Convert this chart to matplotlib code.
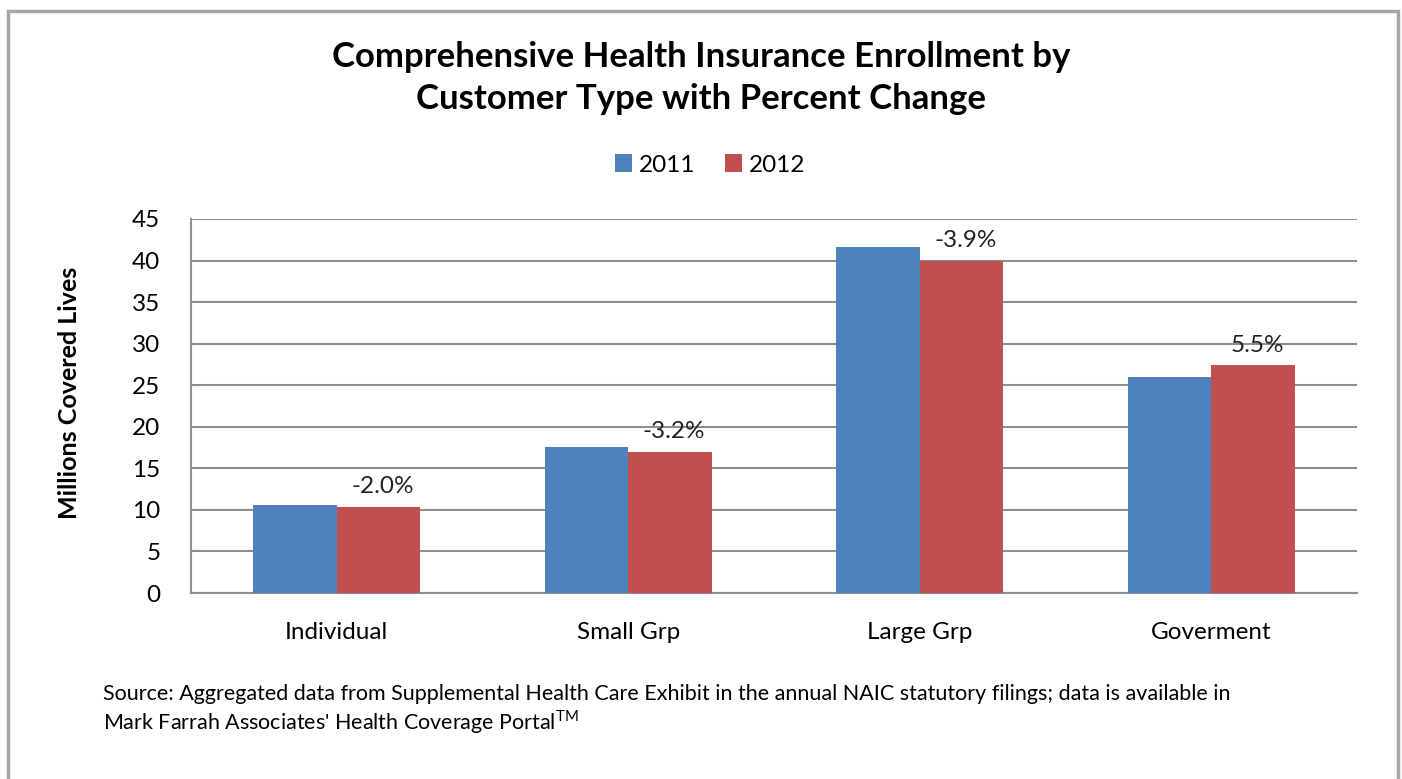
import numpy as np
import matplotlib.pyplot as plt
from matplotlib.patches import Rectangle

categories = ["Individual", "Small Grp", "Large Grp", "Goverment"]
y2011 = [10.6, 17.6, 41.6, 26.0]
y2012 = [10.4, 17.0, 40.0, 27.4]
pct_change = ["-2.0%", "-3.2%", "-3.9%", "5.5%"]
years = ["2011", "2012"]

blue = "#4f81bd"
red = "#c0504d"
grid_col = "#8e8e8e"

plt.rcParams["font.family"] = ["Lato", "DejaVu Sans"]

fig = plt.figure(figsize=(14.02, 7.79), dpi=100)
fig.patches.append(Rectangle((8 / 1402, -0.05), 1390 / 1402, 1.05 - 11 / 779,
                             transform=fig.transFigure, fill=False,
                             edgecolor="#a6a6a6", linewidth=2.5))

ax = fig.add_axes([191 / 1402, 1 - 593 / 779, 1166 / 1402, 374 / 779])

x = np.arange(len(categories))
w = 1 / 3.5
b1 = ax.bar(x - w / 2, y2011, w, color=blue, label=years[0], zorder=3)
b2 = ax.bar(x + w / 2, y2012, w, color=red, label=years[1], zorder=3)

for rect, lab in zip(b2, pct_change):
    ax.annotate(lab, (rect.get_x() + rect.get_width() / 2, rect.get_height()),
                xytext=(3, 7), textcoords="offset points",
                ha="center", va="bottom", fontsize=17.5, color="#222222")

ax.set_xlim(-0.5, len(categories) - 0.5)
ax.set_ylim(0, 45)
ax.set_yticks(range(0, 46, 5))
ax.set_xticks(x)
ax.set_xticklabels(categories, fontsize=17.5)
ax.tick_params(axis="y", labelsize=17.5, length=0, pad=22)
ax.tick_params(axis="x", length=0, pad=21)
ax.yaxis.grid(True, color=grid_col, linewidth=1.5, zorder=0)
ax.set_axisbelow(True)
for s in ["top", "right"]:
    ax.spines[s].set_visible(False)
for s in ["left", "bottom"]:
    ax.spines[s].set_color(grid_col)
    ax.spines[s].set_linewidth(1.5)

ax.set_ylabel("Millions Covered Lives", fontsize=18, fontweight="bold")
ax.yaxis.set_label_coords(-0.094, 0.535)

fig.text(0.5, 1 - 78 / 779, "Comprehensive Health Insurance Enrollment by\nCustomer Type with Percent Change",
         ha="center", va="center", fontsize=25, fontweight="bold", linespacing=1.42)

fig.legend(handles=[b1, b2], labels=years, loc="center", bbox_to_anchor=(710 / 1402, 1 - 165 / 779),
           ncol=2, frameon=False, fontsize=17.5, handlelength=0.7, handleheight=0.7,
           handletextpad=0.3, columnspacing=1.2)

fig.text(103 / 1402, 1 - 694 / 779,
         "Source: Aggregated data from Supplemental Health Care Exhibit in the annual NAIC statutory filings; data is available in",
         ha="left", va="center", fontsize=15.5)
fig.text(103 / 1402, 1 - 722 / 779,
         "Mark Farrah Associates' Health Coverage Portal$^{\\mathregular{TM}}$",
         ha="left", va="center", fontsize=15.5)

fig.savefig("out.png", dpi=100)
